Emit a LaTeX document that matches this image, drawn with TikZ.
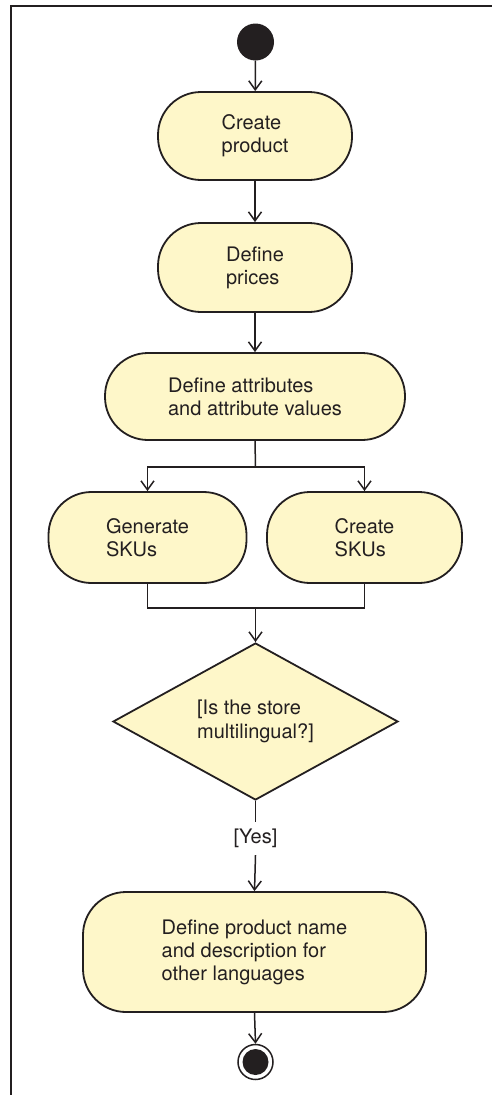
\documentclass[tikz,border=0pt]{standalone}
\usepackage{fontspec}
\setmainfont{TeX Gyre Heros}
\usetikzlibrary{arrows.meta,shapes.geometric}
\definecolor{ink}{HTML}{231F20}
\definecolor{actfill}{HTML}{FEF7C9}
\tikzset{
  arr/.style={draw=ink, line width=1.5pt, -{Straight Barb[length=9pt,width=13pt,line width=1.5pt]}},
  conn/.style={draw=ink, line width=1.5pt},
  action/.style={draw=ink, fill=actfill, line width=1.8pt, rounded corners=43pt,
    inner sep=0pt, align=left, text=ink, font=\fontsize{20}{23}\selectfont},
  decision/.style={draw=ink, fill=actfill, line width=1.8pt, diamond, inner sep=0pt,
    align=left, text=ink, font=\fontsize{20}{24}\selectfont},
  guard/.style={inner sep=0pt, text=ink, font=\fontsize{20}{23}\selectfont},
}
\begin{document}
\begin{tikzpicture}[x=1pt, y=-1pt]
\useasboundingbox (0,0) rectangle (492,1095);

% frame
\draw[ink, line width=1.8pt] (492,5.7) -- (10.7,5.7) -- (10.7,1095);

% initial and final nodes
\node[circle, fill=ink, minimum size=37pt, inner sep=0pt] (start) at (255.5,42) {};
\node[circle, draw=ink, line width=1.5pt, minimum size=35pt, inner sep=0pt] (stop) at (255.5,1062) {};
\fill[ink] (stop.center) circle (13pt);

% actions
\node[action, minimum width=194pt, minimum height=88pt] (create) at (255,136) {Create\\product};
\node[action, minimum width=194pt, minimum height=89pt] (prices) at (255,267.5) {Define\\prices};
\node[action, minimum width=300pt, minimum height=87pt] (attr) at (255,396.5) {Define attributes\\and attribute values};
\node[action, minimum width=198pt, minimum height=91pt] (gen) at (147.5,537.5) {Generate\\SKUs};
\node[action, minimum width=195pt, minimum height=91pt] (csku) at (364.5,537.5) {Create\\SKUs};
\node[decision, minimum width=285pt, minimum height=157pt, aspect=1.815] (multi) at (255.5,721.5) {[Is the store\\multilingual?]};
\node[action, minimum width=343pt, minimum height=120pt] (names) at (254.5,952) {Define product name\\and description for\\other languages};

% guard label
\node[guard, minimum height=33pt] (yes) at (255.5,838.5) {[Yes]};

% fork and join points
\coordinate (fork) at (255.5,467);
\coordinate (join) at (255.5,608);

% flow
\draw[arr] (start) -- (create);
\draw[arr] (create) -- (prices);
\draw[arr] (prices) -- (attr);
\draw[conn] (attr.south) -- (fork);
\draw[arr] (fork) -| (gen.north);
\draw[arr] (fork) -| (csku.north);
\draw[conn] (gen.south) |- (join);
\draw[conn] (csku.south) |- (join);
\draw[arr] (join) -- (multi.north);
\draw[conn] (multi.south) -- (yes.north);
\draw[arr] (yes.south) -- (names.north);
\draw[arr] (names.south) -- (stop.north);
\end{tikzpicture}
\end{document}
